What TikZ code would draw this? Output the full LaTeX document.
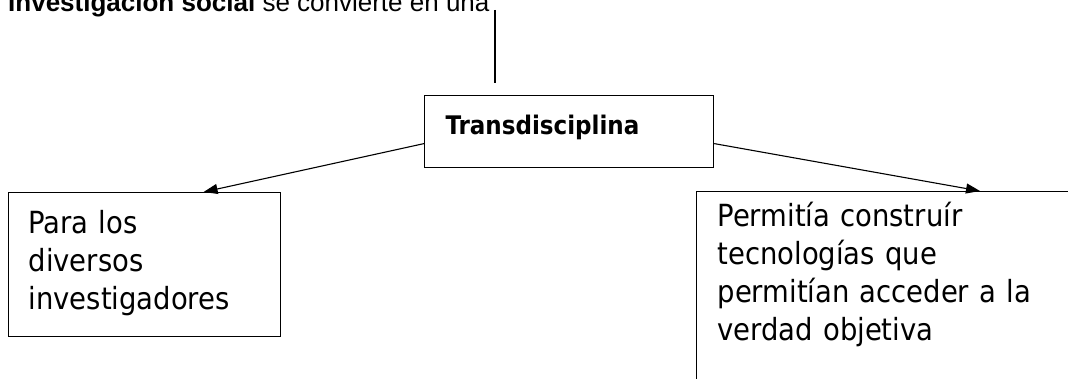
\documentclass[tikz,border=0pt]{standalone}
\usepackage{fontspec}
\setmainfont{DejaVu Sans Condensed}
\newfontfamily\titlefont{Liberation Sans}
\usetikzlibrary{arrows.meta}
\begin{document}
\begin{tikzpicture}[x=1pt,y=-1pt,
        box/.style = {draw, line width=1.2pt, anchor=north west, inner ysep=0pt, align=left},
        link/.style = {line width=1.1pt, -{Triangle[length=14pt,width=10pt]}}]
            \useasboundingbox (0,0) rectangle (1068,379);
            \clip (0,0) rectangle (1068,379);
            \node[anchor=base west, inner sep=0pt, font=\titlefont\fontsize{26}{30}\selectfont] (title) at (8,12) {\textbf{Investigación social} se convierte en una};
            \coordinate (stemtop) at (495,10);
            \coordinate (stembot) at (495,83);
            \draw[line width=1.1pt] (stemtop) -- (stembot);
            \begin{scope}[every node/.append style = {font = \fontsize{30.5}{38}\selectfont}]
                \node[box, font=\bfseries\fontsize{25.6}{30}\selectfont, text width=247pt, inner xsep=21pt, text height=39pt, text depth=33pt] (trans) at (424,95) {Transdisciplina};
                \node[box, text width=232pt, inner xsep=20pt, text height=41pt, text depth=103pt] (lbox) at (8,192) {Para los\\diversos\\investigadores};
                \node[box, text width=400pt, inner xsep=21pt, text height=35pt, text depth=200pt] (rbox) at (696,191) {Permitía construír\\tecnologías que\\permitían acceder a la\\verdad objetiva};
            \end{scope}
            \draw[link] ([yshift=-12pt]trans.west) -- ([xshift=59pt]lbox.north);
            \draw[link] ([yshift=-12pt]trans.east) -- ([xshift=284pt]rbox.north west);
        \end{tikzpicture}
\end{document}
